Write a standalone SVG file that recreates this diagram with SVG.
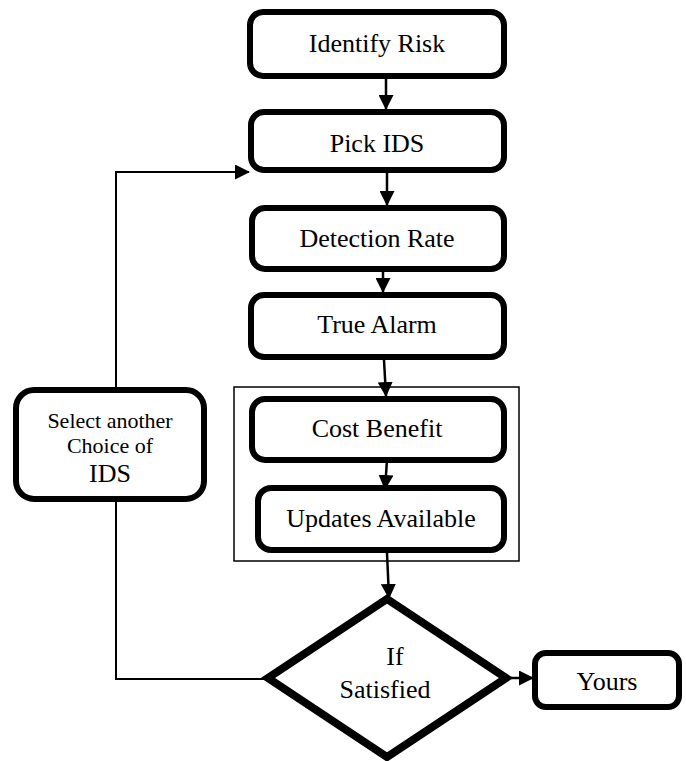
<svg xmlns="http://www.w3.org/2000/svg" width="686" height="761" viewBox="0 0 686 761">
<defs>
<style>
.box{fill:#fff;stroke:#000;stroke-width:6}
.dia{fill:#fff;stroke:#000;stroke-width:8;stroke-linejoin:miter}
.frame{fill:none;stroke:#000;stroke-width:1.5}
.lbl{font-family:'Liberation Serif',Tinos,'Times New Roman','DejaVu Serif',serif;font-size:26px;fill:#000;text-anchor:middle}
.sm{font-size:22px}
.c{fill:none;stroke:#000;stroke-width:2.5}
.t{fill:none;stroke:#000;stroke-width:2}
</style>
<marker id="ah" markerUnits="userSpaceOnUse" markerWidth="15" markerHeight="15" viewBox="0 0 15 15" refX="14" refY="7.5" orient="auto">
<path d="M0,0 L15,7.5 L0,15 Z" fill="#000"/>
</marker>
</defs>
<rect class="frame" x="234" y="387" width="285" height="174"/>
<g id="connectors">
<line class="c" x1="386" y1="79" x2="386" y2="109" marker-end="url(#ah)"/>
<line class="c" x1="387" y1="173" x2="387" y2="205" marker-end="url(#ah)"/>
<line class="c" x1="383" y1="272" x2="383" y2="292" marker-end="url(#ah)"/>
<line class="c" x1="384" y1="360" x2="386" y2="396" marker-end="url(#ah)"/>
<line class="c" x1="387" y1="460" x2="385" y2="489" marker-end="url(#ah)"/>
<line class="c" x1="387" y1="553" x2="389" y2="598" marker-end="url(#ah)"/>
<polyline class="t" points="116,387 116,172 249,172" marker-end="url(#ah)"/>
<polyline class="t" points="266,679 116,679 116,502"/>
<line class="c" x1="508" y1="678" x2="533" y2="678" marker-end="url(#ah)"/>
</g>
<g id="identify-risk">
<rect class="box" x="250" y="12" width="254" height="64" rx="13"/>
<text class="lbl" x="377" y="52" font-family="Liberation Serif, serif">Identify Risk</text>
</g>
<g id="pick-ids">
<rect class="box" x="251" y="112" width="253" height="58" rx="13"/>
<text class="lbl" x="377" y="152" font-family="Liberation Serif, serif">Pick IDS</text>
</g>
<g id="detection-rate">
<rect class="box" x="252" y="208" width="252" height="61" rx="13"/>
<text class="lbl" x="377" y="247" font-family="Liberation Serif, serif">Detection Rate</text>
</g>
<g id="true-alarm">
<rect class="box" x="251" y="295" width="253" height="62" rx="13"/>
<text class="lbl" x="377" y="333" font-family="Liberation Serif, serif">True Alarm</text>
</g>
<g id="cost-benefit">
<rect class="box" x="252" y="399" width="252" height="61" rx="13"/>
<text class="lbl" x="377" y="437" font-family="Liberation Serif, serif">Cost Benefit</text>
</g>
<g id="updates-available">
<rect class="box" x="258" y="488" width="246" height="62" rx="13"/>
<text class="lbl" x="381" y="527" font-family="Liberation Serif, serif">Updates Available</text>
</g>
<g id="select-another">
<rect class="box" x="16" y="390" width="188" height="109" rx="18"/>
<text class="lbl sm" x="110" y="428" font-family="Liberation Serif, serif">Select another</text>
<text class="lbl sm" x="110" y="453" font-family="Liberation Serif, serif">Choice of</text>
<text class="lbl" x="110" y="482" font-family="Liberation Serif, serif">IDS</text>
</g>
<g id="if-satisfied">
<polygon class="dia" points="387,599 506,678 387,757 268,678"/>
<text class="lbl" x="395" y="665" font-family="Liberation Serif, serif">If</text>
<text class="lbl" x="385" y="698" font-family="Liberation Serif, serif">Satisfied</text>
</g>
<g id="yours">
<rect class="box" x="535" y="653" width="144" height="54" rx="11"/>
<text class="lbl" x="607" y="690" font-family="Liberation Serif, serif">Yours</text>
</g>
</svg>
